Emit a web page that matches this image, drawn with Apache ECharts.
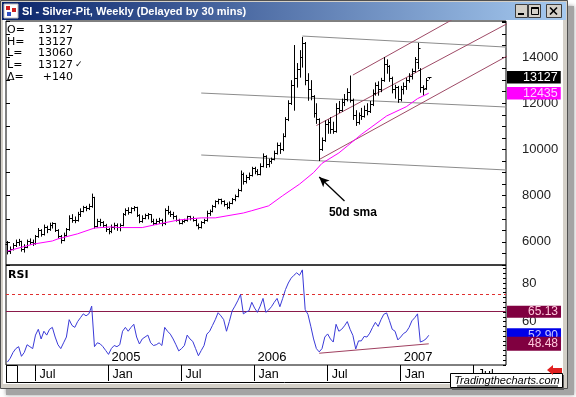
<!DOCTYPE html>
<html>
<head>
<meta charset="utf-8">
<script src="https://cdn.jsdelivr.net/npm/echarts@6/dist/echarts.min.js"></script>
<style>
html,body{margin:0;padding:0;background:#ffffff;overflow:hidden;}
#chart{width:576px;height:397px;}
</style>
</head>
<body>
<div id="chart"></div>
<script>
// ---------- DATA (weekly bars, week index 0 = 2004-04-26) ----------
const opens = [
5900,5600,5700,5850,6000,6050,5700,5800,6050,6000,
5950,6250,6500,6350,6650,6550,6750,6800,6500,6250,
6100,6300,6550,7050,6950,6950,7200,7350,7500,7450,
7550,7950,6700,6900,6850,6750,6550,6450,6650,6750,
6650,6750,7200,7400,7300,7450,7500,7150,6900,7050,
7150,7200,6900,6800,6900,6950,6800,7400,7300,7200,
7100,6950,6800,6900,6950,7100,7050,6950,6750,6650,
6850,6950,7250,7350,7550,7750,7850,7750,7650,7500,
7700,7850,8000,8250,8950,8650,8800,8900,9200,9050,
8950,9300,9700,9350,9500,9600,9850,10200,10000,10600,
11300,12000,12800,13100,13500,14000,14600,13000,12600,12300,
11600,11300,10000,10400,11100,11200,10900,10800,11800,11700,
12050,12200,12500,12150,11500,11200,11500,11450,11700,11650,
11950,12450,12800,12600,13000,13700,13600,13100,12600,12700,
12200,12600,12750,13000,13200,13400,13800,13450,12700,12650,
13127];
const highs = [
6040,5800,5950,6100,6130,6050,5900,6100,6150,6100,
6300,6600,6550,6750,6700,6830,6850,6820,6550,6300,
6400,6600,7150,7200,7100,7300,7450,7560,7560,7650,
8090,7950,7000,7000,6900,6780,6600,6750,6830,6800,
6800,7250,7450,7500,7500,7550,7520,7200,7150,7220,
7250,7200,7000,7000,7040,7000,7450,7560,7350,7300,
7150,7000,6950,7000,7130,7130,7100,7000,6800,6900,
7000,7350,7400,7600,7800,7870,7870,7800,7700,7750,
7900,8050,8300,9090,9000,8900,9000,9250,9250,9150,
9400,9830,9750,9600,9650,9950,10300,10300,10700,11400,
12130,13000,14520,13740,14300,14870,14650,13300,13000,12350,
12000,11350,10520,11260,11300,11400,11200,12000,12100,12200,
12400,12650,13200,12200,11700,11600,11800,11900,12000,12100,
12600,12900,12950,13100,14000,13900,13650,13150,12800,12750,
12750,12900,13100,13300,13500,14000,14610,13520,12780,13090,
13127];
const lows = [
5480,5500,5650,5800,5850,5600,5560,5750,5900,5850,
5900,6200,6250,6300,6400,6500,6600,6450,6170,5950,
6050,6250,6500,6850,6830,6900,7100,7300,7350,7400,
7500,6600,6650,6700,6650,6450,6350,6400,6550,6500,
6480,6700,7150,7200,7250,7350,7100,6830,6850,7000,
7000,6850,6750,6750,6800,6700,6750,7200,7100,7000,
6900,6780,6780,6850,6900,6950,6900,6700,6560,6600,
6800,6900,7150,7300,7500,7650,7650,7550,7430,7450,
7650,7780,7950,8200,8500,8550,8700,8850,8950,8900,
8900,9250,9220,9250,9400,9550,9800,9830,9950,10550,
11250,11950,11700,12700,13130,13565,12800,12130,12150,11400,
11130,9520,9960,10350,10700,10700,10700,10750,11600,11650,
11900,12100,12050,11300,11040,11100,11300,11400,11500,11600,
11900,12350,12350,12500,12950,13300,12950,12450,12220,12040,
12100,12400,12600,12910,13050,13350,13500,12480,12350,12600,
13060];
const closes = [
5600,5700,5850,6000,6050,5700,5800,6050,6000,5950,
6250,6500,6350,6650,6550,6750,6800,6500,6250,6100,
6300,6550,7050,6950,6950,7200,7350,7500,7450,7550,
7950,6700,6900,6850,6750,6550,6450,6650,6750,6650,
6750,7200,7400,7300,7450,7500,7150,6900,7050,7150,
7200,6900,6800,6900,6950,6800,7400,7300,7200,7100,
6950,6800,6900,6950,7100,7050,6950,6750,6650,6850,
6950,7250,7350,7550,7750,7850,7750,7650,7500,7700,
7850,8000,8250,8950,8650,8800,8900,9200,9050,8950,
9300,9700,9350,9500,9600,9850,10200,10000,10600,11300,
12000,12800,13100,13500,14000,14600,13000,12600,12300,11600,
11300,10000,10400,11100,11200,10900,10800,11800,11700,12050,
12200,12500,12150,11500,11200,11500,11450,11700,11650,11950,
12450,12800,12600,13000,13700,13600,13100,12600,12700,12200,
12600,12750,13000,13200,13400,13900,14400,12700,12600,12987,
13127];
const rsi = [
39,41,44,46,47,42,44,48,47,46,
53,56,51,55,53,56,57,52,48,46,
49,52,61,58,57,60,62,64,63,64,
68,47,49,48.5,47,45,43,46,47.6,47,
48,55,57,55,57,58.6,52,48.4,51,52,
53,49,47.6,48,49,47.6,57,55,53.5,51,
48,44.8,46,47.6,53,51,49.7,46,42.3,45,
47.6,53.5,55,58,61,64.6,63,61,55,60,
65.5,68,70.8,74,64,65,65.6,70,67,64.8,
68,72,64.8,66,67.7,70,72,67.7,72,76.6,
80,82.5,84,85.3,84,86.8,66.3,63.7,57.6,51,
46,44.3,46,52,53.6,51,49.4,58.6,55,56,
57.8,60,56,52.8,45.8,50,50,52.3,52,54,
57,59.6,57.5,61,63.8,64.5,60.5,56,55,50.5,
52,53.8,54.7,57,60.4,62,64,49.4,50,51,
52.9];
// 50-period moving average, read at these week indices
const smaWeeks = [0,6,9,16,18,25,31,37,40,48,54,61,69,74,84,87,93,98,104,109,112,118,121,126,135,142,146,150];
const smaValues = [5600,5800,5900,6040,6130,6350,6600,6650,6620,6620,6780,6950,7040,7040,7250,7350,7560,8000,8500,9000,9400,9850,10150,10650,11450,11850,12200,12435];

const weekCount = 178;
const startDate = Date.UTC(2004, 3, 26);
const monthTickWeeks = [10, 36, 62, 88, 114, 140, 166];
const monthTickLabels = ['Jul', 'Jan', 'Jul', 'Jan', 'Jul', 'Jan', 'Jul'];
const yearTickWeeks = [36, 88, 140];
const yearTickLabels = ['2005', '2006', '2007'];
const priceLabelValues = [6000, 8000, 10000, 12000, 14000];
const rsiLabelValues = [60, 80];

// drawn trend lines: [[week, price], [week, price]]
const grayLines = [
  [[105, 14909], [178, 14428]],
  [[69, 12442], [178, 11836]],
  [[69, 9760], [178, 9110]]
];
const channelLines = [
  [[123, 13221], [178, 16951]],
  [[110, 11036], [178, 15450]],
  [[111, 9565], [178, 14052]]
];
const rsiSupport = [[111, 43.6], [150, 48.48]];
const rsiUpperLevel = 74;
const rsiMidLevel = 65.13;
const smaArrow = [[120, 7769], [111, 8808]];
const smaNote = [123, 7250];
const smaNoteText = '50d sma';

// ---------- BUILD ----------
const categories = [];
for (let k = 0; k < weekCount; k++) {
  categories.push(new Date(startDate + k * 7 * 86400000).toISOString().slice(0, 10));
}
const ohlcData = closes.map((c, k) => [k, opens[k], highs[k], lows[k], c]);
const smaData = smaWeeks.map((k, j) => [k, smaValues[j]]);
const rsiData = rsi.map((v, k) => [k, v]);
const last = closes.length - 1;

function renderOhlc(params, api) {
  const k = api.value(0);
  const pO = api.coord([k, api.value(1)]);
  const pH = api.coord([k, api.value(2)]);
  const pL = api.coord([k, api.value(3)]);
  const pC = api.coord([k, api.value(4)]);
  const x = Math.round(pH[0]) + 0.5;
  const st = { stroke: '#000', lineWidth: 1 };
  const yo = Math.round(pO[1]) + 0.5, yc = Math.round(pC[1]) + 0.5;
  return {
    type: 'group',
    children: [
      { type: 'line', shape: { x1: x, y1: pH[1], x2: x, y2: pL[1] + 0.5 }, style: st },
      { type: 'line', shape: { x1: x - 2, y1: yo, x2: x, y2: yo }, style: st },
      { type: 'line', shape: { x1: x, y1: yc, x2: x + 2, y2: yc }, style: st }
    ]
  };
}

function boxLabel(text, bg, fg, size, padLeft, padV) {
  const pv = padV || 0;
  return {
    show: true, position: 'end', distance: 1, formatter: text, opacity: 1,
    backgroundColor: bg, color: fg, fontFamily: 'Liberation Sans', fontSize: size,
    lineHeight: size - 1, padding: [1 + pv, 3, pv, padLeft], align: 'left', verticalAlign: 'middle'
  };
}
const hiddenLine = { color: 'rgba(0,0,0,0)', width: 1, type: 'solid' };

function trendSeries(pair, color, xi, yi) {
  return {
    type: 'line', xAxisIndex: xi, yAxisIndex: yi, data: pair, symbol: 'none', silent: true,
    clip: true, animation: false, lineStyle: { color: color, width: 1 }, z: 3
  };
}

const series = [];
grayLines.forEach(p => series.push(trendSeries(p, '#8c8c8c', 0, 0)));
channelLines.forEach(p => series.push(trendSeries(p, '#9e4a66', 0, 0)));
series.push({
  type: 'custom', name: 'SI', xAxisIndex: 0, yAxisIndex: 0, data: ohlcData,
  encode: { x: 0, y: [1, 2, 3, 4] }, renderItem: renderOhlc, animation: false, z: 4
});
series.push({
  type: 'line', name: 'sma', xAxisIndex: 0, yAxisIndex: 0, data: smaData, symbol: 'none',
  lineStyle: { color: '#ff00ff', width: 1 }, animation: false, z: 5, silent: true,
  markLine: {
    silent: true, symbol: 'none', animation: false, z: 6,
    data: [
      { yAxis: closes[last], lineStyle: hiddenLine, label: boxLabel(String(closes[last]), '#000000', '#ffffff', 12.5, 16) },
      { yAxis: smaValues[smaValues.length - 1], lineStyle: hiddenLine, label: boxLabel(String(smaValues[smaValues.length - 1]), '#ff00ff', '#ffd0ff', 12.5, 16) },
      [
        { coord: smaArrow[0], symbol: 'none', lineStyle: { color: '#000', width: 1.3, type: 'solid' }, label: { show: false } },
        { coord: smaArrow[1], symbol: 'arrow', symbolSize: [7, 10] }
      ]
    ]
  },
  markPoint: {
    silent: true, animation: false,
    data: [{ coord: smaNote, symbol: 'rect', symbolSize: 1, itemStyle: { color: 'rgba(0,0,0,0)' },
      label: { show: true, position: 'inside', formatter: smaNoteText, color: '#000', fontWeight: 'bold', fontSize: 12, fontFamily: 'Liberation Sans' } }]
  }
});
series.push({
  type: 'line', name: 'RSI', xAxisIndex: 1, yAxisIndex: 2, data: rsiData, symbol: 'none',
  lineStyle: { color: '#3a3ad8', width: 1 }, animation: false, z: 5, silent: true,
  markLine: {
    silent: true, symbol: 'none', animation: false, z: 5,
    data: [
      { yAxis: rsiMidLevel, lineStyle: { color: '#8a1a4a', width: 1, type: 'solid' }, label: boxLabel(rsiMidLevel.toFixed(2), '#800040', '#ffc8dc', 12, 21, 0) },
      { yAxis: rsiUpperLevel, lineStyle: { color: '#e03030', width: 1, type: [3, 3] }, label: { show: false } },
      { yAxis: rsi[last], lineStyle: hiddenLine, label: boxLabel(rsi[last].toFixed(2), '#0000e8', '#c8c8ff', 12, 21, 1) }
    ]
  }
});
series.push({
  type: 'line', name: 'support', xAxisIndex: 1, yAxisIndex: 2, data: rsiSupport, symbol: 'none',
  lineStyle: { color: '#a04060', width: 1 }, animation: false, z: 6, silent: true,
  markLine: {
    silent: true, symbol: 'none', animation: false, z: 7,
    data: [{ yAxis: rsiSupport[1][1], lineStyle: hiddenLine, label: boxLabel(rsiSupport[1][1].toFixed(2), '#800040', '#ffc8dc', 12, 21, 1) }]
  }
});

// ---------- WINDOW CHROME ----------
const hdrFont = '11px "DejaVu Sans"';
function txt(x, y, s, font, align, color, z) {
  return { type: 'text', x: x, y: y, z: z || 100, silent: true,
    style: { text: s, font: font, fill: color || '#000', textAlign: align || 'left', textVerticalAlign: 'middle', verticalAlign: 'middle' } };
}
const hdrRows = [
  ['O=', String(opens[last]), 30],
  ['H=', String(highs[last]), 42],
  ['L=', String(lows[last]), 53.5],
  ['L=', String(closes[last]), 65],
  ['\u0394=', '+' + (closes[last] - closes[last - 1]), 77]
];
const graphics = [
  { type: 'rect', z: -30, silent: true, shape: { x: 6, y: 6, width: 568, height: 389 }, style: { fill: '#a4a4a4', shadowBlur: 4, shadowColor: 'rgba(0,0,0,0.4)' } },
  { type: 'rect', z: -20, silent: true, shape: { x: 0.5, y: 0.5, width: 567, height: 388 }, style: { fill: '#d4d0c8', stroke: '#505050', lineWidth: 1 } },
  { type: 'rect', z: -10, silent: true, shape: { x: 3, y: 20, width: 560, height: 364 }, style: { fill: '#ffffff' } },
  { type: 'rect', z: 100, silent: true, shape: { x: 2, y: 2, width: 564, height: 18 },
    style: { fill: new echarts.graphic.LinearGradient(0, 0, 1, 0, [{ offset: 0, color: '#0a246a' }, { offset: 1, color: '#a6caf0' }]) } },
  { type: 'rect', z: 101, silent: true, shape: { x: 4, y: 4, width: 14, height: 14 }, style: { fill: '#ffffff', stroke: '#c0c0c0' } },
  { type: 'rect', z: 102, silent: true, shape: { x: 6, y: 6, width: 4, height: 4 }, style: { fill: '#d02020' } },
  { type: 'rect', z: 102, silent: true, shape: { x: 12, y: 8, width: 4, height: 4 }, style: { fill: '#d02020' } },
  { type: 'rect', z: 102, silent: true, shape: { x: 7, y: 12, width: 4, height: 4 }, style: { fill: '#3050c0' } },
  txt(22, 12, 'SI - Silver-Pit, Weekly (Delayed by 30 mins)', 'bold 11px "Liberation Sans"', 'left', '#ffffff', 103),
  // buttons
  { type: 'rect', z: 101, silent: true, shape: { x: 515.5, y: 4.5, width: 12, height: 13 }, style: { fill: '#d4d0c8', stroke: '#404040' } },
  { type: 'rect', z: 102, silent: true, shape: { x: 518, y: 13, width: 6, height: 2 }, style: { fill: '#000' } },
  { type: 'rect', z: 101, silent: true, shape: { x: 528.5, y: 4.5, width: 12, height: 13 }, style: { fill: '#d4d0c8', stroke: '#404040' } },
  { type: 'rect', z: 102, silent: true, shape: { x: 531.5, y: 7.5, width: 7, height: 7 }, style: { fill: 'none', stroke: '#000', lineWidth: 1 } },
  { type: 'rect', z: 102, silent: true, shape: { x: 531.5, y: 7, width: 7, height: 2 }, style: { fill: '#000' } },
  { type: 'rect', z: 101, silent: true, shape: { x: 546.5, y: 4.5, width: 15, height: 13 }, style: { fill: '#d4d0c8', stroke: '#404040' } },
  { type: 'line', z: 102, silent: true, shape: { x1: 550, y1: 7.5, x2: 557, y2: 14.5 }, style: { stroke: '#000', lineWidth: 1.6 } },
  { type: 'line', z: 102, silent: true, shape: { x1: 557, y1: 7.5, x2: 550, y2: 14.5 }, style: { stroke: '#000', lineWidth: 1.6 } },
  // RSI title
  txt(8, 275, 'RSI', 'bold 11px "DejaVu Sans"', 'left', '#000', 100),
  // date band
  { type: 'line', z: 50, silent: true, shape: { x1: 6, y1: 382.5, x2: 563, y2: 382.5 }, style: { stroke: '#000', lineWidth: 1 } },
  { type: 'line', z: 50, silent: true, shape: { x1: 6.5, y1: 365, x2: 6.5, y2: 383 }, style: { stroke: '#000', lineWidth: 1 } },
  { type: 'rect', z: 50, silent: true, shape: { x: 6.5, y: 365.5, width: 11, height: 17 }, style: { fill: '#ffffff', stroke: '#000', lineWidth: 1 } },
  // watermark box
  { type: 'rect', z: 110, silent: true, shape: { x: 452, y: 375, width: 112, height: 15 }, style: { fill: '#606060' } },
  { type: 'rect', z: 111, silent: true, shape: { x: 450.5, y: 373.5, width: 112, height: 14 }, style: { fill: '#ffffff', stroke: '#000', lineWidth: 1 } },
  txt(507, 380.5, 'Tradingthecharts.com', 'italic 11px "Liberation Sans"', 'center', '#000', 112),
  { type: 'line', z: 112, silent: true, shape: { x1: 457, y1: 386, x2: 558, y2: 386 }, style: { stroke: '#000', lineWidth: 1 } },
  { type: 'polygon', z: 112, silent: true, shape: { points: [[547, 370], [553, 365], [553, 368], [562, 368], [562, 373], [553, 373], [553, 375]] }, style: { fill: '#e02020' } }
];
hdrRows.forEach(r => {
  graphics.push(txt(7, r[2], r[0], hdrFont, 'left', '#000', 100));
  graphics.push(txt(73, r[2], r[1], hdrFont, 'right', '#000', 100));
});
graphics.push(txt(75, 65, '\u2713', '9px "DejaVu Sans"', 'left', '#000', 100));

// ---------- OPTION ----------
const option = {
  animation: false,
  backgroundColor: 'transparent',
  textStyle: { fontFamily: 'Liberation Sans' },
  grid: [
    { left: 6, top: 21, width: 500, height: 244, show: true, borderColor: '#000', borderWidth: 1, backgroundColor: 'transparent', containLabel: false, outerBoundsMode: 'none' },
    { left: 6, top: 265, width: 500, height: 100, show: true, borderColor: '#000', borderWidth: 1, backgroundColor: 'transparent', containLabel: false, outerBoundsMode: 'none' }
  ],
  xAxis: [
    { type: 'category', gridIndex: 0, data: categories, boundaryGap: true,
      axisLine: { show: false }, axisTick: { show: false }, axisLabel: { show: false }, splitLine: { show: false } },
    { type: 'category', gridIndex: 1, data: categories, boundaryGap: true, position: 'bottom', offset: 0,
      axisLine: { show: false }, splitLine: { show: false },
      axisTick: { show: true, alignWithLabel: true, length: 16, interval: (i) => monthTickWeeks.indexOf(i) >= 0, lineStyle: { color: '#000', width: 1 } },
      axisLabel: { show: true, interval: (i) => monthTickWeeks.indexOf(i) >= 0,
        formatter: (v, i) => { const j = monthTickWeeks.indexOf(i); return j >= 0 ? monthTickLabels[j] : ''; },
        align: 'left', margin: 3, padding: [0, 0, 0, 4], fontSize: 12.5, color: '#000', fontFamily: 'Liberation Sans' } },
    { type: 'category', gridIndex: 1, data: categories, boundaryGap: true, position: 'bottom', offset: 0,
      axisLine: { show: false }, axisTick: { show: false }, splitLine: { show: false },
      axisLabel: { show: true, inside: true, interval: (i) => yearTickWeeks.indexOf(i) >= 0,
        formatter: (v, i) => { const j = yearTickWeeks.indexOf(i); return j >= 0 ? yearTickLabels[j] : ''; },
        align: 'left', margin: 1, padding: [0, 0, 0, 3], fontSize: 13, color: '#000', fontFamily: 'Liberation Sans' } }
  ],
  yAxis: [
    { type: 'value', gridIndex: 0, position: 'right', min: 5000, max: 15560, interval: 500,
      axisLine: { show: false }, splitLine: { show: false },
      axisTick: { show: true, inside: true, length: 4, lineStyle: { color: '#000' } },
      axisLabel: { show: true, margin: 16, align: 'left', fontSize: 13, color: '#222', fontFamily: 'Liberation Sans',
        formatter: (v) => priceLabelValues.indexOf(v) >= 0 ? String(v) : '' } },
    { type: 'value', gridIndex: 0, position: 'left', min: 5000, max: 15560, interval: 1000,
      axisLine: { show: false }, splitLine: { show: false },
      axisTick: { show: true, inside: true, length: 4, lineStyle: { color: '#000' } }, axisLabel: { show: false } },
    { type: 'value', gridIndex: 1, position: 'right', min: 37.5, max: 89.33, interval: 2.5,
      axisLine: { show: false }, splitLine: { show: false },
      axisTick: { show: true, inside: true, length: 3, lineStyle: { color: '#000' } },
      axisLabel: { show: true, margin: 16, align: 'left', fontSize: 13, color: '#222', fontFamily: 'Liberation Sans',
        formatter: (v) => rsiLabelValues.indexOf(v) >= 0 ? String(v) : '' } }
  ],
  graphic: { elements: graphics },
  series: series
};

const chart = echarts.init(document.getElementById('chart'), null, { renderer: 'canvas' });
chart.setOption(option);
</script>
</body>
</html>
